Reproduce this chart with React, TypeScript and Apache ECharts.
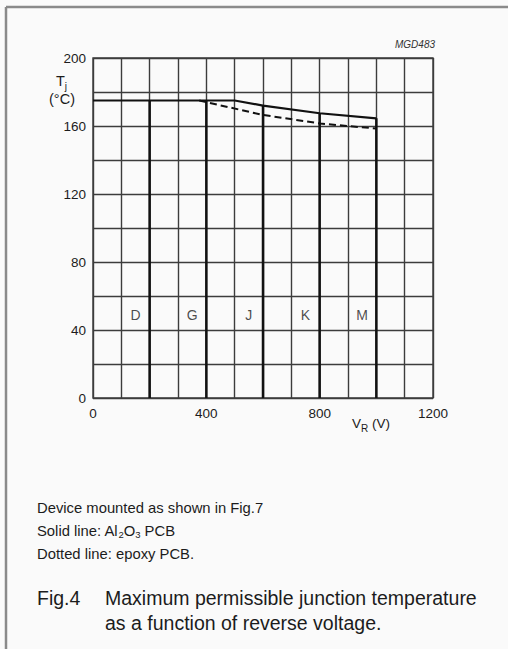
import React, { useEffect, useRef } from 'react';
import * as echarts from 'echarts';

// ---- data ----
const xTicks = [0, 400, 800, 1200];
const yTicks = [0, 40, 80, 120, 160, 200];
// solid line: Al2O3 PCB
const solidV = [0, 500, 600, 800, 1000];
const solidT = [175, 175, 172, 167.5, 164.5];
// dashed line: epoxy PCB
const dashedV = [375, 400, 600, 800, 1000];
const dashedT = [175, 174, 166.5, 161.5, 158.5];
// voltage grades
const gradeNames = ['D', 'G', 'J', 'K', 'M'];
const gradeV = [200, 400, 600, 800, 1000];
const gradeTopT = [175, 175, 172, 167.5, 164.5];
const gradeLabelT = 49;

const FONT = '"Liberation Sans", Arial, Helvetica, sans-serif';
const INK = '#1c1c1c';
const GRID = '#3c3c3c';

export default function App() {
  const ref = useRef<HTMLDivElement>(null);

  useEffect(() => {
    if (!ref.current) return;
    const chart = echarts.init(ref.current, undefined, { renderer: 'svg' });

    const gridLine = { show: true, lineStyle: { color: GRID, width: 1.4 } };

    const gradeSeries = gradeV.map((v, i) => ({
      type: 'line' as const,
      name: 'grade ' + gradeNames[i],
      data: [[v, 0], [v, gradeTopT[i]]],
      symbol: 'none',
      z: 4,
      lineStyle: { color: '#111', width: 2.5 },
    }));

    const option: any = {
      animation: false,
      backgroundColor: '#fafafa',
      textStyle: { fontFamily: FONT },
      grid: {
        left: 93,
        right: 75,
        top: 58,
        bottom: 251,
        show: true,
        borderColor: GRID,
        borderWidth: 1.4,
        backgroundColor: 'transparent',
      },
      xAxis: {
        type: 'value',
        min: 0,
        max: 1200,
        interval: 400,
        axisLine: { show: false },
        axisTick: { show: false },
        axisLabel: {
          margin: 8,
          fontSize: 13.5,
          color: INK,
          fontFamily: FONT,
          formatter: (v: number) => (xTicks.includes(v) ? String(v) : ''),
        },
        splitLine: gridLine,
        minorTick: { show: false, splitNumber: 4 },
        minorSplitLine: gridLine,
      },
      yAxis: {
        type: 'value',
        min: 0,
        max: 200,
        interval: 40,
        axisLine: { show: false },
        axisTick: { show: false },
        axisLabel: {
          margin: 7,
          fontSize: 13.5,
          color: INK,
          fontFamily: FONT,
          formatter: (v: number) => (yTicks.includes(v) ? String(v) : ''),
        },
        splitLine: gridLine,
        minorTick: { show: false, splitNumber: 2 },
        minorSplitLine: gridLine,
      },
      series: [
        {
          type: 'line',
          name: 'Al2O3 PCB',
          data: solidV.map((v, i) => [v, solidT[i]]),
          symbol: 'none',
          z: 5,
          lineStyle: { color: '#111', width: 2.2 },
        },
        {
          type: 'line',
          name: 'epoxy PCB',
          data: dashedV.map((v, i) => [v, dashedT[i]]),
          symbol: 'none',
          z: 5,
          lineStyle: { color: '#111', width: 2, type: [7, 4] },
        },
        ...gradeSeries,
        {
          type: 'scatter',
          name: 'grade labels',
          symbolSize: 0,
          z: 6,
          data: gradeNames.map((n, i) => ({ name: n, value: [gradeV[i] - 50, gradeLabelT] })),
          label: {
            show: true,
            position: 'inside',
            formatter: '{b}',
            fontSize: 14,
            color: INK,
            fontFamily: FONT,
          },
        },
      ],
      graphic: [
        // page frame
        { type: 'line', shape: { x1: 6, y1: 7, x2: 6, y2: 649 }, style: { stroke: '#8a8a8a', lineWidth: 2.5 } },
        { type: 'line', shape: { x1: 6, y1: 7, x2: 508, y2: 7 }, style: { stroke: '#8a8a8a', lineWidth: 2.5 } },
        {
          type: 'text',
          x: 435,
          y: 44,
          style: {
            text: 'MGD483',
            fontSize: 10,
            fontStyle: 'italic',
            fontFamily: FONT,
            fill: '#333',
            align: 'right',
            verticalAlign: 'middle',
          },
        },
        {
          type: 'text',
          x: 56,
          y: 71,
          style: {
            text: '{t|T}{s|j}',
            fill: INK,
            rich: {
              t: { fontSize: 14.5, fontFamily: FONT, fill: INK },
              s: { fontSize: 10, fontFamily: FONT, fill: INK, padding: [10, 0, 0, 0] },
            },
          },
        },
        {
          type: 'text',
          x: 62,
          y: 99,
          style: {
            text: '(°C)',
            fontSize: 14.5,
            fontFamily: FONT,
            fill: INK,
            align: 'center',
            verticalAlign: 'middle',
          },
        },
        {
          type: 'text',
          x: 352,
          y: 414,
          style: {
            text: '{t|V}{s|R}{t| (V)}',
            fill: INK,
            rich: {
              t: { fontSize: 13.5, fontFamily: FONT, fill: INK },
              s: { fontSize: 10, fontFamily: FONT, fill: INK, padding: [9, 0, 0, 0] },
            },
          },
        },
        {
          type: 'text',
          x: 37,
          y: 508,
          style: { text: 'Device mounted as shown in Fig.7', fontSize: 14.8, fontFamily: FONT, fill: INK, verticalAlign: 'middle' },
        },
        {
          type: 'text',
          x: 37,
          y: 522,
          style: {
            text: '{t|Solid line: Al}{s|2}{t|O}{s|3}{t| PCB}',
            fill: INK,
            rich: {
              t: { fontSize: 14.8, fontFamily: FONT, fill: INK },
              s: { fontSize: 9.5, fontFamily: FONT, fill: INK, padding: [7, 0, 0, 0] },
            },
          },
        },
        {
          type: 'text',
          x: 37,
          y: 554,
          style: { text: 'Dotted line: epoxy PCB.', fontSize: 14.8, fontFamily: FONT, fill: INK, verticalAlign: 'middle' },
        },
        {
          type: 'text',
          x: 37,
          y: 598,
          style: { text: 'Fig.4', fontSize: 19.5, fontFamily: FONT, fill: INK, verticalAlign: 'middle' },
        },
        {
          type: 'text',
          x: 105,
          y: 598,
          style: { text: 'Maximum permissible junction temperature', fontSize: 19.5, fontFamily: FONT, fill: INK, verticalAlign: 'middle' },
        },
        {
          type: 'text',
          x: 105,
          y: 623,
          style: { text: 'as a function of reverse voltage.', fontSize: 19.5, fontFamily: FONT, fill: INK, verticalAlign: 'middle' },
        },
      ],
    };

    chart.setOption(option);
    return () => chart.dispose();
  }, []);

  return (
    <div
      ref={ref}
      style={{ position: 'fixed', left: 0, top: 0, width: 508, height: 649 }}
    />
  );
}
